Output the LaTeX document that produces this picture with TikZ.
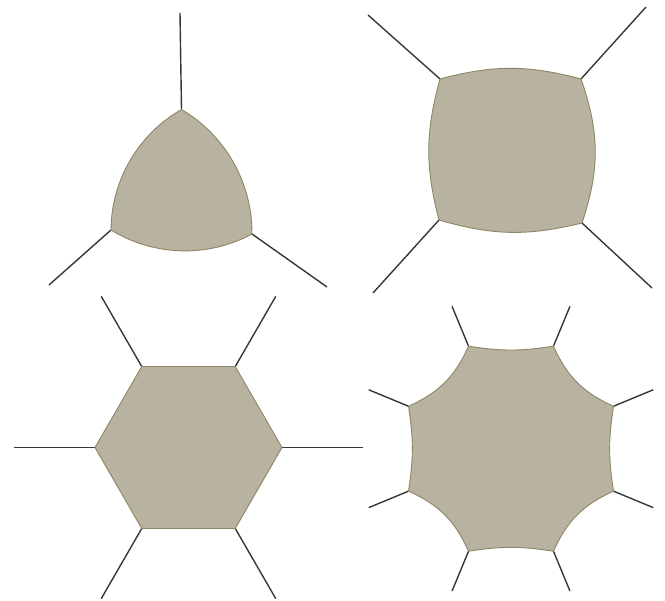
\documentclass[tikz,border=0pt]{standalone}
\usetikzlibrary{calc}
\definecolor{cellfill}{RGB}{184,178,160}
\definecolor{celledge}{RGB}{140,134,100}
\definecolor{spokecol}{RGB}{55,55,55}
\begin{document}
\begin{tikzpicture}[x=1pt,y=-1pt,
  cell/.style={fill=cellfill,draw=celledge,line width=0.9pt,line join=round},
  spokeline/.style={draw=spokecol,line width=1.4pt}]
\useasboundingbox (0,0) rectangle (665,601);

% ---------- Reuleaux triangle ----------
\coordinate (rT) at (181.5,109.5);
\coordinate (rL) at (111,230);
\coordinate (rR) at (252,234);
\coordinate (rTe) at (180,13);
\coordinate (rLe) at (49,285);
\coordinate (rRe) at (327,287);
\draw[spokeline] (rT) -- (rTe);
\draw[spokeline] (rL) -- (rLe);
\draw[spokeline] (rR) -- (rRe);
\path[cell] (rT) to[bend right=30,looseness=0.91] (rL)
  to[bend right=30,looseness=0.91] (rR)
  to[bend right=30,looseness=0.91] (rT) -- cycle;

% ---------- bulging square ----------
\coordinate (sTL) at (440,79);
\coordinate (sTR) at (581,79);
\coordinate (sBR) at (582,223);
\coordinate (sBL) at (439,220);
\coordinate (sTLe) at (368,15);
\coordinate (sTRe) at (646,7);
\coordinate (sBRe) at (652,288);
\coordinate (sBLe) at (373,293);
\draw[spokeline] (sTL) -- (sTLe);
\draw[spokeline] (sTR) -- (sTRe);
\draw[spokeline] (sBR) -- (sBRe);
\draw[spokeline] (sBL) -- (sBLe);
\path[cell] (sTL) to[bend left=15] (sTR) to[bend left=19] (sBR)
  to[bend left=15] (sBL) to[bend left=15] (sTL) -- cycle;

% ---------- hexagon ----------
\coordinate (hc) at (188.5,447.5);
\foreach \a [count=\i] in {0,60,120,180,240,300}{
  \coordinate (h\i) at ($(hc)+(\a:93.5)$);
  \coordinate (he\i) at ($(hc)+(\a:174.5)$);
}
\foreach \i in {1,...,6}{ \draw[spokeline] (h\i) -- (he\i); }
\path[cell] (h1) -- (h2) -- (h3) -- (h4) -- (h5) -- (h6) -- cycle;

% ---------- concave octagon ----------
\coordinate (oc) at (511,448.7);
\foreach \a [count=\i] in {22.5,67.5,112.5,157.5,202.5,247.5,292.5,337.5}{
  \coordinate (o\i) at ($(oc)+(\a:111)$);
  \coordinate (oe\i) at ($(oc)+(\a:154)$);
}
\foreach \i in {1,...,8}{ \draw[spokeline] (o\i) -- (oe\i); }
\path[cell] (o1) to[bend right=21] (o2) to[bend right=9] (o3)
  to[bend right=21] (o4) to[bend right=9] (o5)
  to[bend right=21] (o6) to[bend right=9] (o7)
  to[bend right=21] (o8) to[bend right=9] (o1) -- cycle;
\end{tikzpicture}
\end{document}
